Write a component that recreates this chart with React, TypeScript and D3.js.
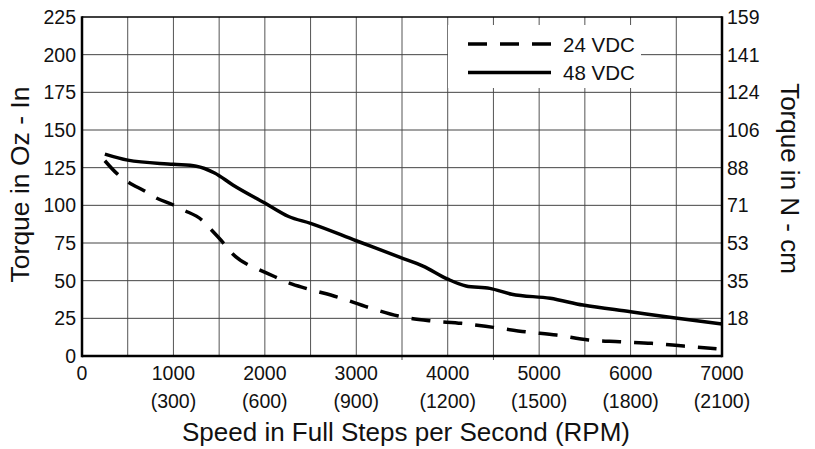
import React from "react";
import * as d3 from "d3";

const xTicks = [0, 1000, 2000, 3000, 4000, 5000, 6000, 7000];
const xTickRpm = ["", "(300)", "(600)", "(900)", "(1200)", "(1500)", "(1800)", "(2100)"];
const yTicks = [0, 25, 50, 75, 100, 125, 150, 175, 200, 225];
const yRightLabels = ["", "18", "35", "53", "71", "88", "106", "124", "141", "159"];

const speeds48 = [250, 500, 1000, 1250, 1450, 1650, 2000, 2260, 2500, 3000, 3480, 3730, 4000, 4200, 4460, 4700, 5120, 5480, 6000, 6470, 7000];
const torque48 = [134, 130, 127.2, 126, 121.5, 113.5, 101.5, 92.6, 88, 76.5, 65.5, 59.7, 51, 46.5, 44.9, 41, 38.3, 33.8, 29.4, 25.4, 21.2];

const speeds24 = [250, 380, 500, 700, 800, 1000, 1110, 1310, 1400, 1550, 1640, 1820, 1930, 2110, 2275, 2450, 2800, 3130, 3460, 3800, 4150, 4500, 4850, 5190, 5540, 5880, 6230, 6580, 6940];
const torque24 = [129.6, 121.2, 115.7, 109, 105.3, 100.2, 96.9, 90.3, 84.7, 74.8, 68.2, 60.4, 57.5, 52.6, 48.2, 44.9, 39, 32.3, 26.5, 23.4, 21.7, 19, 16.1, 13.9, 10.6, 9.5, 8.4, 6.6, 4.8];

const legendLabels = ["24 VDC", "48 VDC"];
const tickExtensions = [3500, 4500];

export default function App() {
  const W = 815, H = 449;
  const L = 82, R = 722, T = 17, B = 356;
  const x = d3.scaleLinear().domain([0, 7000]).range([L, R]);
  const y = d3.scaleLinear().domain([0, 225]).range([B, T]);
  const line = d3.line<[number, number]>().x(d => x(d[0])).y(d => y(d[1])).curve(d3.curveMonotoneX);
  const d48 = line(speeds48.map((s, i) => [s, torque48[i]] as [number, number])) || "";
  const d24 = line(speeds24.map((s, i) => [s, torque24[i]] as [number, number])) || "";
  const vGrid = d3.range(500, 7000, 500);
  const hGrid = yTicks.filter(t => t > 0 && t < 225);
  const font = "'Liberation Sans', Arial, Helvetica, sans-serif";
  return (
    <div style={{ position: "absolute", left: 0, top: 0 }}>
      <svg width={W} height={H} style={{ display: "block", background: "#fff" }} fontFamily={font}>
        {vGrid.map(v => (
          <line key={"v" + v} x1={x(v)} x2={x(v)} y1={T} y2={B} stroke="#555" strokeWidth={1} />
        ))}
        {tickExtensions.map(v => (
          <line key={"e" + v} x1={x(v)} x2={x(v)} y1={B} y2={B + 4} stroke="#555" strokeWidth={1} />
        ))}
        {hGrid.map(t => (
          <line key={"h" + t} x1={L} x2={R} y1={y(t)} y2={y(t)} stroke="#444" strokeWidth={1} />
        ))}
        {/* legend background */}
        <rect x={448} y={25} width={193} height={63} fill="#fff" />
        {/* frame */}
        <line x1={L} x2={R} y1={T} y2={T} stroke="#000" strokeWidth={1.5} />
        <line x1={L} x2={L} y1={T - 0.75} y2={B + 1.25} stroke="#000" strokeWidth={2.5} />
        <line x1={R} x2={R} y1={T - 0.75} y2={B + 1.25} stroke="#000" strokeWidth={2.5} />
        <line x1={L} x2={R} y1={B} y2={B} stroke="#000" strokeWidth={2.5} />
        {/* curves */}
        <path d={d24} fill="none" stroke="#000" strokeWidth={3.5} strokeDasharray="19 13" />
        <path d={d48} fill="none" stroke="#000" strokeWidth={3.5} />
        {/* legend */}
        <line x1={468} x2={551} y1={44} y2={44} stroke="#000" strokeWidth={3.5} strokeDasharray="19 13" />
        <line x1={468} x2={551} y1={72.5} y2={72.5} stroke="#000" strokeWidth={3.5} />
        <text x={563} y={51.5} fontSize={20.5} fill="#111">{legendLabels[0]}</text>
        <text x={563} y={80} fontSize={20.5} fill="#111">{legendLabels[1]}</text>
        {/* left ticks */}
        {yTicks.map(t => (
          <text key={"yl" + t} x={76} y={y(t) + 7} fontSize={19.5} textAnchor="end" fill="#111">{t}</text>
        ))}
        {yTicks.map((t, i) => yRightLabels[i] ? (
          <text key={"yr" + t} x={727} y={y(t) + 7} fontSize={19.5} textAnchor="start" fill="#111">{yRightLabels[i]}</text>
        ) : null)}
        {xTicks.map((v, i) => (
          <g key={"xt" + v}>
            <text x={x(v)} y={380} fontSize={19.5} textAnchor="middle" fill="#111">{v}</text>
            {xTickRpm[i] ? <text x={x(v)} y={408} fontSize={19.5} textAnchor="middle" fill="#111">{xTickRpm[i]}</text> : null}
          </g>
        ))}
        <text x={406} y={441} fontSize={26} textAnchor="middle" fill="#111">Speed in Full Steps per Second (RPM)</text>
        <text transform={`translate(29,${(T + B) / 2 - 2}) rotate(-90)`} fontSize={26.5} textAnchor="middle" fill="#111">Torque in Oz - In</text>
        <text transform={`translate(781,${(T + B) / 2 - 8}) rotate(90)`} fontSize={26} textAnchor="middle" fill="#111">Torque in N - cm</text>
      </svg>
    </div>
  );
}
